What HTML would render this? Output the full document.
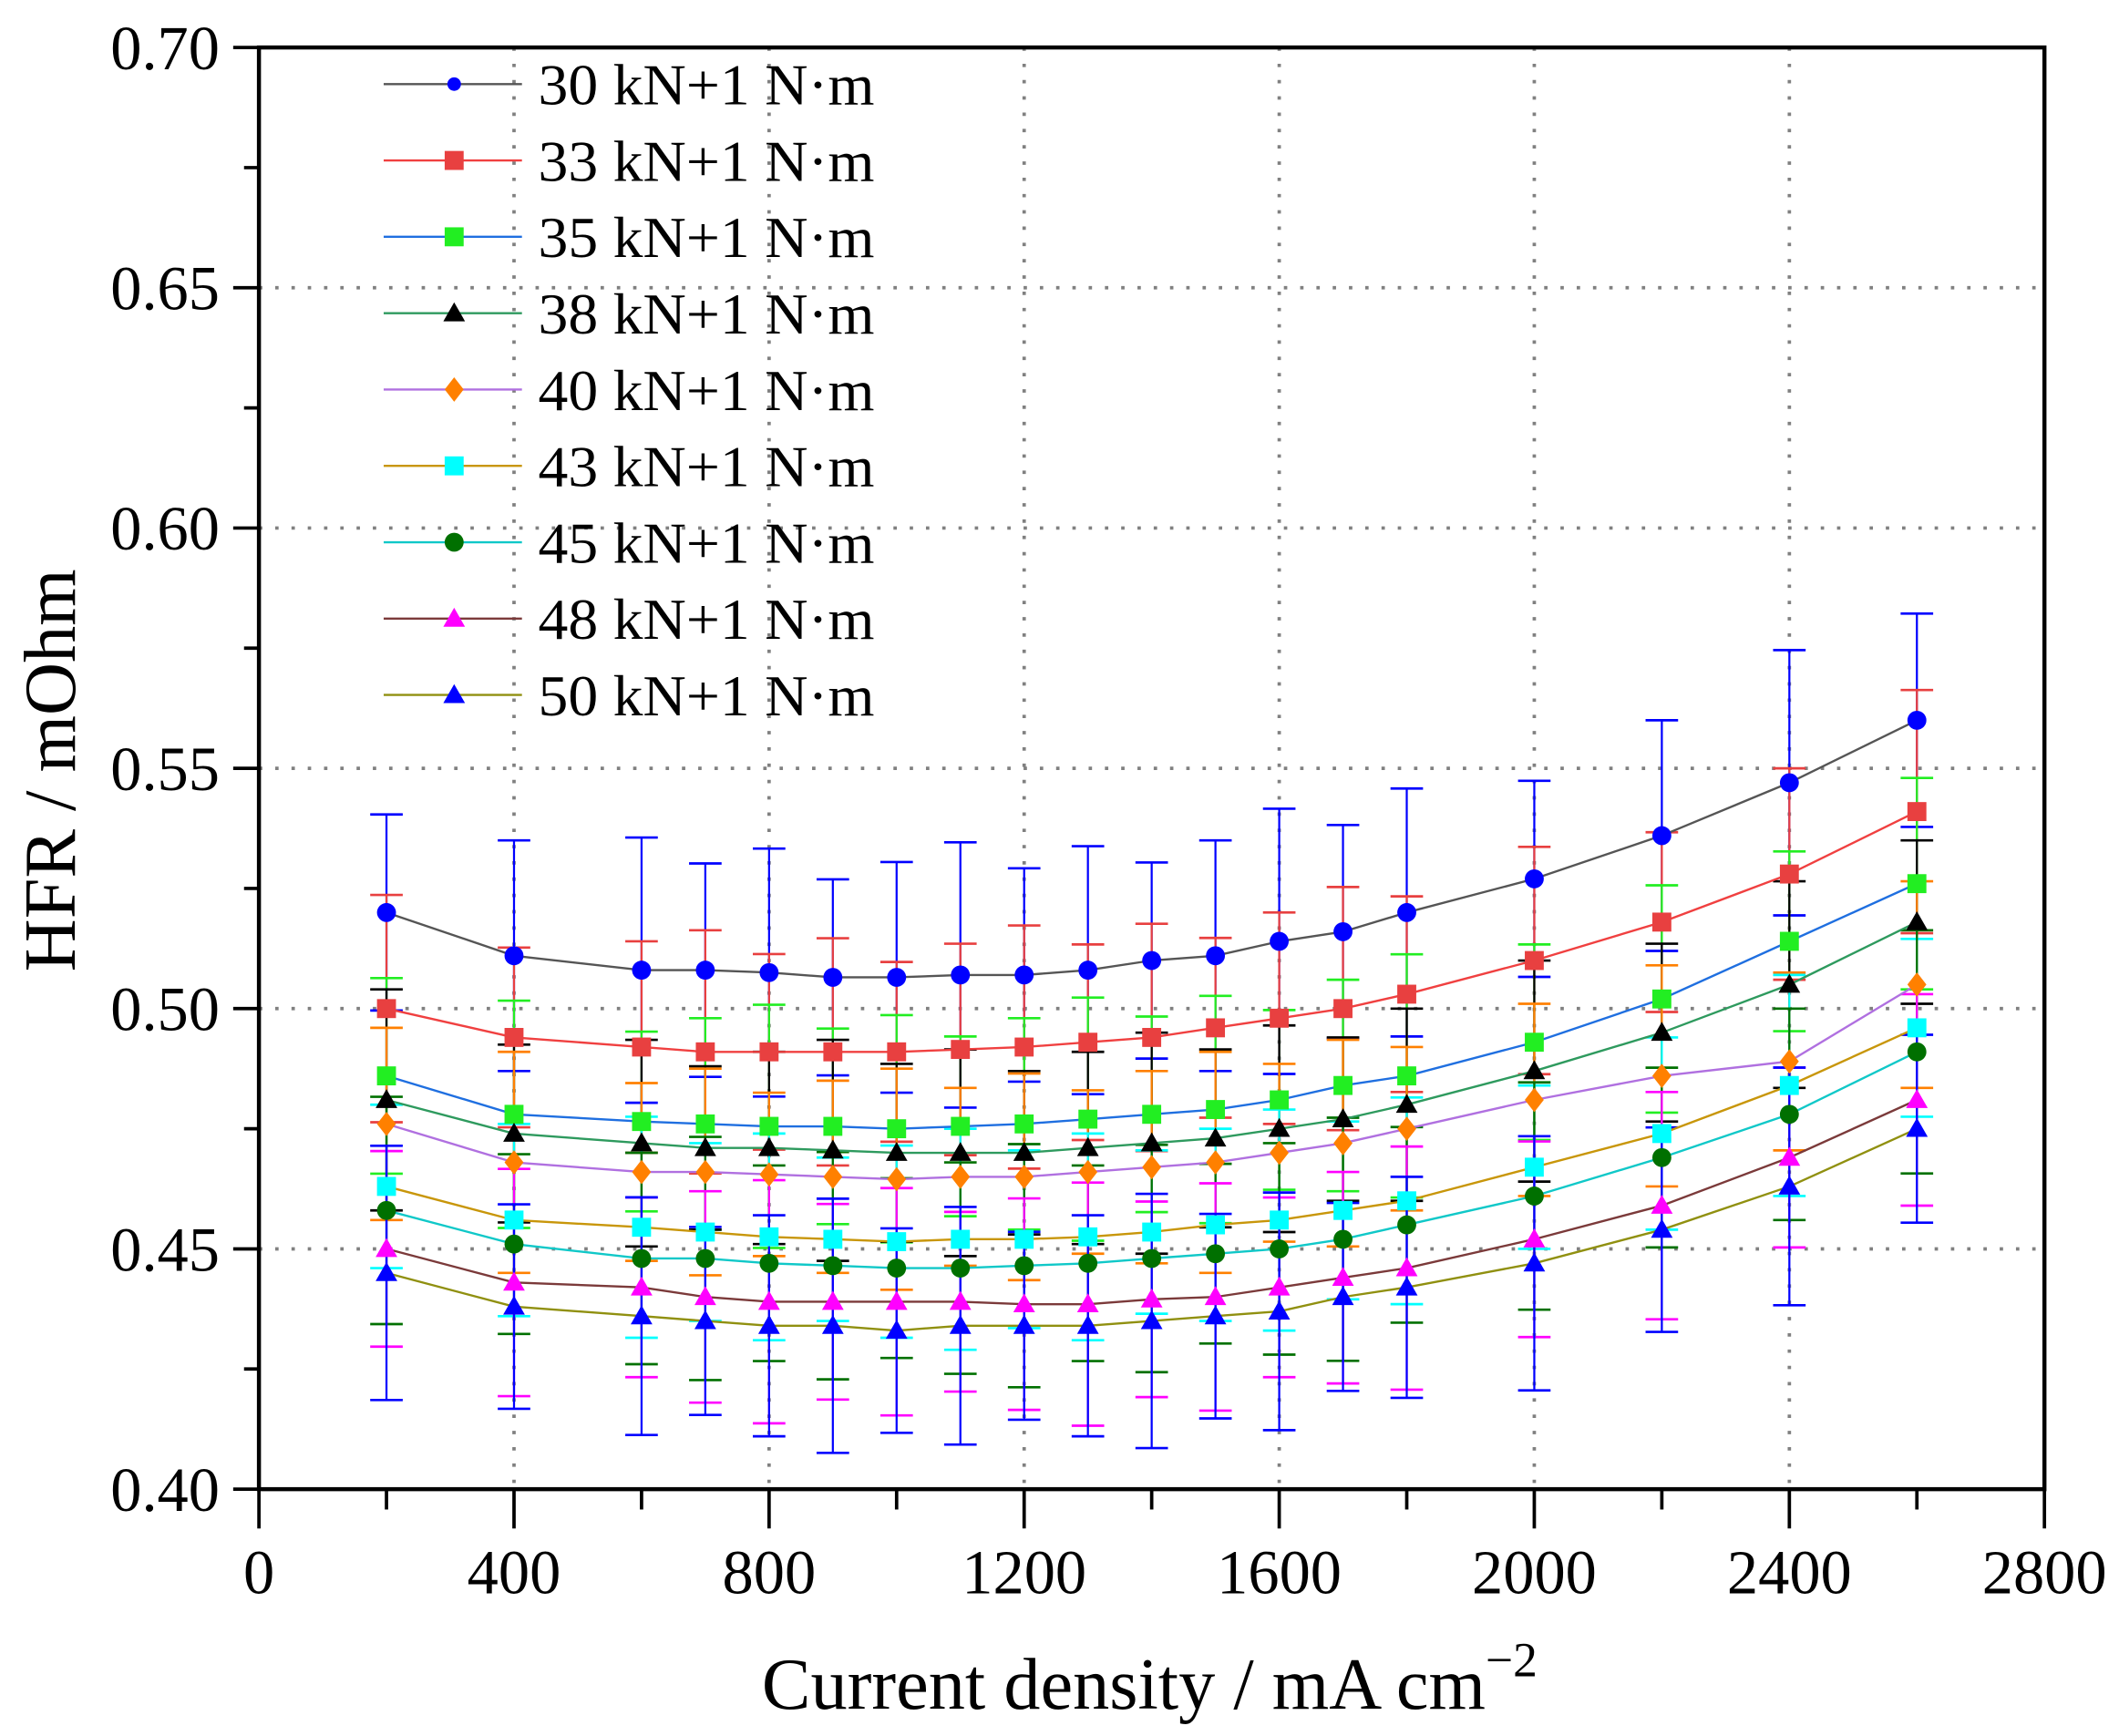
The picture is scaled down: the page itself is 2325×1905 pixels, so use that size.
<!DOCTYPE html>
<html><head><meta charset="utf-8"><style>
html,body{margin:0;padding:0;background:#fff;}
svg{display:block;}
text{font-family:"Liberation Serif",serif;fill:#000;}
</style></head><body>
<svg id="s" width="2325" height="1905" viewBox="0 0 1563 1280" preserveAspectRatio="none" xmlns="http://www.w3.org/2000/svg"></svg>
<script>
const s=document.getElementById('s');
const L=191,R=1508,T=35,B=1098;
const X=v=>L+v*(R-L)/2800, Y=v=>B-(v-0.40)*(B-T)/0.30;
let h='';
for(let v=400;v<=2400;v+=400)h+=`<line x1="${X(v)}" y1="${T}" x2="${X(v)}" y2="${B}" stroke="#808080" stroke-width="2.5" stroke-dasharray="2.5,9.5"/>`;
for(let v=0.45;v<0.66;v+=0.05)h+=`<line x1="${L}" y1="${Y(v)}" x2="${R}" y2="${Y(v)}" stroke="#808080" stroke-width="2.5" stroke-dasharray="2.5,9.5"/>`;
const xs=[200,400,600,700,800,900,1000,1100,1200,1300,1400,1500,1600,1700,1800,2000,2200,2400,2600];
const S=[
["30",'#555','#0000ff','c',[0.520,0.511,0.508,0.508,0.5075,0.5065,0.5065,0.507,0.507,0.508,0.510,0.511,0.514,0.516,0.520,0.527,0.536,0.547,0.560],0.024],
["33",'#f04040','#e84040','s',[0.500,0.494,0.492,0.491,0.491,0.491,0.491,0.4915,0.492,0.493,0.494,0.496,0.498,0.500,0.503,0.510,0.518,0.528,0.541],0.022],
["35",'#1f6fe0','#22ee22','s',[0.486,0.478,0.4765,0.476,0.4755,0.4755,0.475,0.4755,0.476,0.477,0.478,0.479,0.481,0.484,0.486,0.493,0.502,0.514,0.526],0.022],
["38",'#2e9a5e','#000','t',[0.481,0.474,0.472,0.471,0.471,0.4705,0.470,0.470,0.470,0.471,0.472,0.473,0.475,0.477,0.480,0.487,0.495,0.505,0.518],0.02],
["40",'#b070e0','#ff8000','d',[0.476,0.468,0.466,0.466,0.4655,0.465,0.4645,0.465,0.465,0.466,0.467,0.468,0.470,0.472,0.475,0.481,0.486,0.489,0.505],0.02],
["43",'#c8960a','#00ffff','s',[0.463,0.456,0.4545,0.4535,0.4525,0.452,0.4515,0.452,0.452,0.4525,0.4535,0.455,0.456,0.458,0.460,0.467,0.474,0.484,0.496],0.02],
["45",'#10c8c8','#007000','c',[0.458,0.451,0.448,0.448,0.447,0.4465,0.446,0.446,0.4465,0.447,0.448,0.449,0.450,0.452,0.455,0.461,0.469,0.478,0.491],0.022],
["48",'#7b3a3a','#ff00ff','t',[0.450,0.443,0.442,0.440,0.439,0.439,0.439,0.439,0.4385,0.4385,0.4395,0.440,0.442,0.444,0.446,0.452,0.459,0.469,0.481],0.022],
["50",'#909010','#0000ff','t',[0.445,0.438,0.436,0.435,0.434,0.434,0.433,0.434,0.434,0.434,0.435,0.436,0.437,0.440,0.442,0.447,0.454,0.463,0.475],0.023]];
function mk(t,x,y,c,r){r=r||7;
 if(t=='c')return `<circle cx="${x}" cy="${y}" r="${r}" fill="${c}"/>`;
 if(t=='s')return `<rect x="${x-r}" y="${y-r}" width="${2*r}" height="${2*r}" fill="${c}"/>`;
 if(t=='t')return `<polygon points="${x},${y-r-1} ${x-r-1},${y+r-1} ${x+r+1},${y+r-1}" fill="${c}"/>`;
 return `<polygon points="${x},${y-r-2} ${x-r},${y} ${x},${y+r+2} ${x+r},${y}" fill="${c}"/>`;}
let eb='',ln='',mks='';
S.forEach((sr,i)=>{
 const [n,lc,mc,t,v,e]=sr;
 xs.forEach((x,j)=>{const ee=e*(0.85+0.3*((j*7+i*3)%5)/4);const px=X(x);
  eb+=`<line x1="${px}" y1="${Y(v[j]+ee)}" x2="${px}" y2="${Y(v[j]-ee)}" stroke="${mc}" stroke-width="1.5"/>`;
  eb+=`<line x1="${px-12}" y1="${Y(v[j]+ee)}" x2="${px+12}" y2="${Y(v[j]+ee)}" stroke="${mc}" stroke-width="1.8"/>`;
  eb+=`<line x1="${px-12}" y1="${Y(v[j]-ee)}" x2="${px+12}" y2="${Y(v[j]-ee)}" stroke="${mc}" stroke-width="1.8"/>`;});
 let d='';xs.forEach((x,j)=>{d+=(j?'L':'M')+X(x).toFixed(1)+','+Y(v[j]).toFixed(1)});
 ln+=`<path d="${d}" fill="none" stroke="${lc}" stroke-width="1.6"/>`;
 xs.forEach((x,j)=>mks+=mk(t,X(x),Y(v[j]),mc));
 const ly=62+i*56.3;
 mks+=`<line x1="283" y1="${ly}" x2="385" y2="${ly}" stroke="${lc}" stroke-width="1.6"/>`+mk(t,335,ly,mc,t=='c'&&i==0?5:7);
 mks+=`<text x="397" y="${ly+15}" font-size="43" textLength="248" lengthAdjust="spacingAndGlyphs">${n} kN+1 N·m</text>`;
});
h+=eb+ln+mks;
h+=`<rect x="${L}" y="${T}" width="${R-L}" height="${B-T}" fill="none" stroke="#000" stroke-width="3"/>`;
for(let v=0;v<=2800;v+=200){const big=v%400==0;h+=`<line x1="${X(v)}" y1="${B}" x2="${X(v)}" y2="${B+(big?29:15)}" stroke="#000" stroke-width="2.5"/>`;
 if(big)h+=`<text x="${X(v)}" y="${B+77}" font-size="46" text-anchor="middle">${v}</text>`;}
for(let k=0;k<=12;k++){const v=0.40+k*0.025,big=k%2==0;h+=`<line x1="${L}" y1="${Y(v)}" x2="${L-(big?19:11)}" y2="${Y(v)}" stroke="#000" stroke-width="2.5"/>`;
 if(big)h+=`<text x="${L-29}" y="${Y(v)+16}" font-size="46" text-anchor="end">${v.toFixed(2)}</text>`;}
h+=`<text x="848" y="1260" font-size="54" text-anchor="middle">Current density / mA cm<tspan dy="-24" font-size="36">−2</tspan></text>`;
h+=`<text transform="translate(55,568) rotate(-90)" font-size="54" text-anchor="middle">HFR / mOhm</text>`;
s.innerHTML=h;
</script>
</body></html>
